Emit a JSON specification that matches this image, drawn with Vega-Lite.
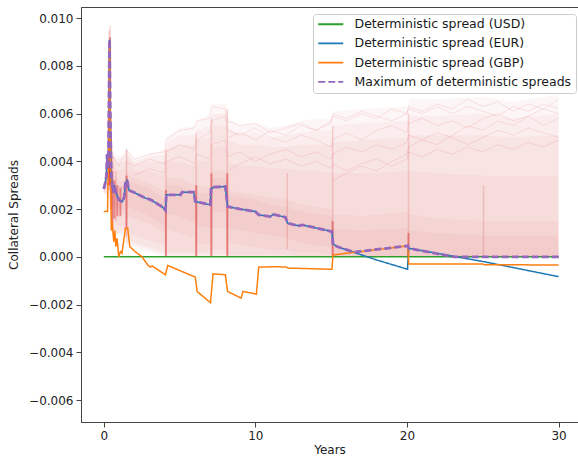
{
  "$schema": "https://vega.github.io/schema/vega-lite/v6.json",
  "width": 497,
  "height": 415,
  "autosize": "none",
  "padding": {"left": 81, "top": 7, "right": 0, "bottom": 37},
  "config": {
    "font": "DejaVu Sans",
    "view": {"stroke": "#444", "strokeWidth": 1},
    "axis": {"domainColor": "#444", "tickColor": "#444", "labelColor": "#222", "titleColor": "#222", "labelFontSize": 12, "titleFontSize": 12, "titleFontWeight": "normal", "grid": false, "tickSize": 5, "labelPadding": 3},
    "legend": {"orient": "none", "legendX": 232, "legendY": 7, "padding": 4, "labelFontSize": 12.5, "labelLimit": 0, "labelColor": "#1a1a1a", "symbolType": "M-1,0L4,0", "symbolSize": 100, "symbolStrokeWidth": 1.8, "rowPadding": 6.2, "labelOffset": 25, "fillColor": "rgba(255,255,255,0.8)", "strokeColor": "#cccccc", "cornerRadius": 3}
  },
  "datasets": {
    "cloud": [
      {"band": "a", "t": 0, "lo": 0.0027, "hi": 0.0029},
      {"band": "a", "t": 0.2, "lo": 0.0025, "hi": 0.0045},
      {"band": "a", "t": 0.3, "lo": 0.0025, "hi": 0.006},
      {"band": "a", "t": 0.38, "lo": 0.0025, "hi": 0.0097},
      {"band": "a", "t": 0.45, "lo": 0.002, "hi": 0.007},
      {"band": "a", "t": 0.55, "lo": 0.001, "hi": 0.0048},
      {"band": "a", "t": 0.7, "lo": 0.0008, "hi": 0.0043},
      {"band": "a", "t": 1.0, "lo": 0.0009, "hi": 0.0042},
      {"band": "a", "t": 1.4, "lo": 0.001, "hi": 0.0043},
      {"band": "a", "t": 1.5, "lo": 0.0004, "hi": 0.0046},
      {"band": "a", "t": 1.65, "lo": 0.0005, "hi": 0.0044},
      {"band": "a", "t": 2, "lo": 0.0004, "hi": 0.0041},
      {"band": "a", "t": 3, "lo": 0.0002, "hi": 0.0043},
      {"band": "a", "t": 4.05, "lo": 0.0, "hi": 0.0045},
      {"band": "a", "t": 4.15, "lo": 0.0, "hi": 0.005},
      {"band": "a", "t": 5, "lo": 0, "hi": 0.0054},
      {"band": "a", "t": 6.05, "lo": 0, "hi": 0.0055},
      {"band": "a", "t": 6.15, "lo": 0, "hi": 0.0057},
      {"band": "a", "t": 7.05, "lo": 0, "hi": 0.006},
      {"band": "a", "t": 7.15, "lo": 0, "hi": 0.0064},
      {"band": "a", "t": 8.1, "lo": 0, "hi": 0.0064},
      {"band": "a", "t": 8.2, "lo": 0, "hi": 0.0058},
      {"band": "a", "t": 9, "lo": 0, "hi": 0.0055},
      {"band": "a", "t": 10, "lo": 0, "hi": 0.0056},
      {"band": "a", "t": 11, "lo": 0, "hi": 0.0054},
      {"band": "a", "t": 12, "lo": 0, "hi": 0.0055},
      {"band": "a", "t": 13, "lo": 0, "hi": 0.0057},
      {"band": "a", "t": 14, "lo": 0, "hi": 0.0058},
      {"band": "a", "t": 15.05, "lo": 0, "hi": 0.0058},
      {"band": "a", "t": 15.15, "lo": 0, "hi": 0.0061},
      {"band": "a", "t": 17, "lo": 0, "hi": 0.0062},
      {"band": "a", "t": 20.05, "lo": 0, "hi": 0.0063},
      {"band": "a", "t": 20.15, "lo": 0, "hi": 0.0066},
      {"band": "a", "t": 22, "lo": 0, "hi": 0.0066},
      {"band": "a", "t": 25, "lo": 0, "hi": 0.0067},
      {"band": "a", "t": 27, "lo": 0, "hi": 0.0065},
      {"band": "a", "t": 30, "lo": 0, "hi": 0.0068},

      {"band": "a2", "t": 0, "lo": 0.0027, "hi": 0.0029},
      {"band": "a2", "t": 0.2, "lo": 0.0026, "hi": 0.0044},
      {"band": "a2", "t": 0.3, "lo": 0.0026, "hi": 0.0059},
      {"band": "a2", "t": 0.38, "lo": 0.0027, "hi": 0.0096},
      {"band": "a2", "t": 0.45, "lo": 0.0021, "hi": 0.0069},
      {"band": "a2", "t": 0.55, "lo": 0.0011, "hi": 0.0046},
      {"band": "a2", "t": 0.7, "lo": 0.0009, "hi": 0.0042},
      {"band": "a2", "t": 1.0, "lo": 0.001, "hi": 0.0041},
      {"band": "a2", "t": 1.4, "lo": 0.0011, "hi": 0.0042},
      {"band": "a2", "t": 1.5, "lo": 0.0005, "hi": 0.0045},
      {"band": "a2", "t": 1.65, "lo": 0.0006, "hi": 0.0043},
      {"band": "a2", "t": 2, "lo": 0.0005, "hi": 0.004},
      {"band": "a2", "t": 3, "lo": 0.0003, "hi": 0.0042},
      {"band": "a2", "t": 4.05, "lo": 0.0001, "hi": 0.0043},
      {"band": "a2", "t": 4.15, "lo": 0.0, "hi": 0.0048},
      {"band": "a2", "t": 5, "lo": 0, "hi": 0.0051},
      {"band": "a2", "t": 6.05, "lo": 0, "hi": 0.0051},
      {"band": "a2", "t": 6.15, "lo": 0, "hi": 0.0053},
      {"band": "a2", "t": 7.05, "lo": 0, "hi": 0.0055},
      {"band": "a2", "t": 7.15, "lo": 0, "hi": 0.006},
      {"band": "a2", "t": 8.1, "lo": 0, "hi": 0.006},
      {"band": "a2", "t": 8.2, "lo": 0, "hi": 0.0054},
      {"band": "a2", "t": 9, "lo": 0, "hi": 0.0051},
      {"band": "a2", "t": 10, "lo": 0, "hi": 0.0052},
      {"band": "a2", "t": 11, "lo": 0, "hi": 0.005},
      {"band": "a2", "t": 12, "lo": 0, "hi": 0.0051},
      {"band": "a2", "t": 13, "lo": 0, "hi": 0.0052},
      {"band": "a2", "t": 14, "lo": 0, "hi": 0.0053},
      {"band": "a2", "t": 15.05, "lo": 0, "hi": 0.0053},
      {"band": "a2", "t": 15.15, "lo": 0, "hi": 0.0055},
      {"band": "a2", "t": 17, "lo": 0, "hi": 0.0056},
      {"band": "a2", "t": 20.05, "lo": 0, "hi": 0.0057},
      {"band": "a2", "t": 20.15, "lo": 0, "hi": 0.0059},
      {"band": "a2", "t": 22, "lo": 0, "hi": 0.0059},
      {"band": "a2", "t": 25, "lo": 0, "hi": 0.006},
      {"band": "a2", "t": 27, "lo": 0, "hi": 0.0058},
      {"band": "a2", "t": 30, "lo": 0, "hi": 0.006},

      {"band": "b", "t": 0, "lo": 0.0027, "hi": 0.0029},
      {"band": "b", "t": 0.2, "lo": 0.0027, "hi": 0.0043},
      {"band": "b", "t": 0.3, "lo": 0.0027, "hi": 0.0058},
      {"band": "b", "t": 0.38, "lo": 0.0028, "hi": 0.0096},
      {"band": "b", "t": 0.45, "lo": 0.0022, "hi": 0.0068},
      {"band": "b", "t": 0.55, "lo": 0.0012, "hi": 0.0044},
      {"band": "b", "t": 0.7, "lo": 0.001, "hi": 0.0041},
      {"band": "b", "t": 1.0, "lo": 0.001, "hi": 0.0039},
      {"band": "b", "t": 1.4, "lo": 0.0011, "hi": 0.004},
      {"band": "b", "t": 1.5, "lo": 0.0006, "hi": 0.0044},
      {"band": "b", "t": 1.65, "lo": 0.0007, "hi": 0.0042},
      {"band": "b", "t": 2, "lo": 0.0006, "hi": 0.0039},
      {"band": "b", "t": 3, "lo": 0.0004, "hi": 0.004},
      {"band": "b", "t": 4.05, "lo": 0.0002, "hi": 0.004},
      {"band": "b", "t": 4.15, "lo": 0.0001, "hi": 0.0045},
      {"band": "b", "t": 5, "lo": 0.0001, "hi": 0.0047},
      {"band": "b", "t": 6.05, "lo": 0.0001, "hi": 0.0047},
      {"band": "b", "t": 6.15, "lo": 0.0001, "hi": 0.0049},
      {"band": "b", "t": 7.05, "lo": 0.0001, "hi": 0.005},
      {"band": "b", "t": 7.15, "lo": 0.0001, "hi": 0.0055},
      {"band": "b", "t": 8.1, "lo": 0.0001, "hi": 0.0055},
      {"band": "b", "t": 8.2, "lo": 0, "hi": 0.0049},
      {"band": "b", "t": 9, "lo": 0, "hi": 0.0047},
      {"band": "b", "t": 10, "lo": 0, "hi": 0.0047},
      {"band": "b", "t": 11, "lo": 0, "hi": 0.0046},
      {"band": "b", "t": 12, "lo": 0, "hi": 0.0046},
      {"band": "b", "t": 13, "lo": 0, "hi": 0.0047},
      {"band": "b", "t": 14, "lo": 0, "hi": 0.0047},
      {"band": "b", "t": 15.05, "lo": 0, "hi": 0.0047},
      {"band": "b", "t": 15.15, "lo": 0, "hi": 0.0048},
      {"band": "b", "t": 17, "lo": 0, "hi": 0.0049},
      {"band": "b", "t": 20.05, "lo": 0, "hi": 0.005},
      {"band": "b", "t": 20.15, "lo": 0, "hi": 0.0051},
      {"band": "b", "t": 22, "lo": 0, "hi": 0.0051},
      {"band": "b", "t": 25, "lo": 0, "hi": 0.0051},
      {"band": "b", "t": 27, "lo": 0, "hi": 0.005},
      {"band": "b", "t": 30, "lo": 0, "hi": 0.0051},

      {"band": "c", "t": 0, "lo": 0.0027, "hi": 0.0029},
      {"band": "c", "t": 0.2, "lo": 0.0028, "hi": 0.0042},
      {"band": "c", "t": 0.3, "lo": 0.0028, "hi": 0.0055},
      {"band": "c", "t": 0.38, "lo": 0.003, "hi": 0.0095},
      {"band": "c", "t": 0.45, "lo": 0.0025, "hi": 0.0065},
      {"band": "c", "t": 0.55, "lo": 0.0015, "hi": 0.004},
      {"band": "c", "t": 0.7, "lo": 0.0014, "hi": 0.0038},
      {"band": "c", "t": 1.0, "lo": 0.0013, "hi": 0.0036},
      {"band": "c", "t": 1.4, "lo": 0.0013, "hi": 0.0037},
      {"band": "c", "t": 1.5, "lo": 0.0008, "hi": 0.0042},
      {"band": "c", "t": 1.65, "lo": 0.001, "hi": 0.0039},
      {"band": "c", "t": 2, "lo": 0.0009, "hi": 0.0036},
      {"band": "c", "t": 3, "lo": 0.0007, "hi": 0.0036},
      {"band": "c", "t": 4.05, "lo": 0.0005, "hi": 0.0034},
      {"band": "c", "t": 4.15, "lo": 0.0002, "hi": 0.004},
      {"band": "c", "t": 5, "lo": 0.0002, "hi": 0.004},
      {"band": "c", "t": 6.05, "lo": 0.0002, "hi": 0.0038},
      {"band": "c", "t": 6.15, "lo": 0.0002, "hi": 0.004},
      {"band": "c", "t": 7.05, "lo": 0.0002, "hi": 0.004},
      {"band": "c", "t": 7.15, "lo": 0.0003, "hi": 0.0046},
      {"band": "c", "t": 8.1, "lo": 0.0003, "hi": 0.0046},
      {"band": "c", "t": 8.2, "lo": 0.0001, "hi": 0.004},
      {"band": "c", "t": 9, "lo": 0.0001, "hi": 0.0038},
      {"band": "c", "t": 10, "lo": 0.0001, "hi": 0.0038},
      {"band": "c", "t": 11, "lo": 0.0001, "hi": 0.0037},
      {"band": "c", "t": 12, "lo": 0.0001, "hi": 0.0037},
      {"band": "c", "t": 13, "lo": 0, "hi": 0.0036},
      {"band": "c", "t": 14, "lo": 0, "hi": 0.0036},
      {"band": "c", "t": 15.05, "lo": 0, "hi": 0.0035},
      {"band": "c", "t": 15.15, "lo": 0, "hi": 0.0035},
      {"band": "c", "t": 17, "lo": 0, "hi": 0.0035},
      {"band": "c", "t": 20.05, "lo": 0, "hi": 0.0036},
      {"band": "c", "t": 20.15, "lo": 0, "hi": 0.0036},
      {"band": "c", "t": 22, "lo": 0, "hi": 0.0035},
      {"band": "c", "t": 25, "lo": 0, "hi": 0.0034},
      {"band": "c", "t": 27, "lo": 0, "hi": 0.0034},
      {"band": "c", "t": 30, "lo": 0, "hi": 0.0034},

      {"band": "d", "t": 0, "lo": 0.00275, "hi": 0.0029},
      {"band": "d", "t": 0.2, "lo": 0.003, "hi": 0.0038},
      {"band": "d", "t": 0.3, "lo": 0.0032, "hi": 0.0048},
      {"band": "d", "t": 0.38, "lo": 0.0035, "hi": 0.0093},
      {"band": "d", "t": 0.45, "lo": 0.003, "hi": 0.006},
      {"band": "d", "t": 0.55, "lo": 0.002, "hi": 0.0035},
      {"band": "d", "t": 0.7, "lo": 0.002, "hi": 0.0034},
      {"band": "d", "t": 1.0, "lo": 0.0018, "hi": 0.0032},
      {"band": "d", "t": 1.4, "lo": 0.0018, "hi": 0.0032},
      {"band": "d", "t": 1.5, "lo": 0.0015, "hi": 0.0037},
      {"band": "d", "t": 1.65, "lo": 0.0017, "hi": 0.0034},
      {"band": "d", "t": 2, "lo": 0.0016, "hi": 0.0033},
      {"band": "d", "t": 3, "lo": 0.0014, "hi": 0.0031},
      {"band": "d", "t": 4.05, "lo": 0.001, "hi": 0.0027},
      {"band": "d", "t": 4.15, "lo": 0.0012, "hi": 0.0033},
      {"band": "d", "t": 5, "lo": 0.001, "hi": 0.0033},
      {"band": "d", "t": 6.05, "lo": 0.0008, "hi": 0.003},
      {"band": "d", "t": 6.15, "lo": 0.0006, "hi": 0.003},
      {"band": "d", "t": 7.05, "lo": 0.0005, "hi": 0.0029},
      {"band": "d", "t": 7.15, "lo": 0.0012, "hi": 0.0036},
      {"band": "d", "t": 8.1, "lo": 0.0012, "hi": 0.0036},
      {"band": "d", "t": 8.2, "lo": 0.0006, "hi": 0.0028},
      {"band": "d", "t": 9, "lo": 0.0005, "hi": 0.0027},
      {"band": "d", "t": 10, "lo": 0.0004, "hi": 0.0026},
      {"band": "d", "t": 11, "lo": 0.0003, "hi": 0.0025},
      {"band": "d", "t": 12, "lo": 0.0003, "hi": 0.0024},
      {"band": "d", "t": 13, "lo": 0.0002, "hi": 0.0022},
      {"band": "d", "t": 14, "lo": 0.0002, "hi": 0.0021},
      {"band": "d", "t": 15.05, "lo": 0.0001, "hi": 0.002},
      {"band": "d", "t": 15.15, "lo": 0, "hi": 0.0018},
      {"band": "d", "t": 17, "lo": 0, "hi": 0.0017},
      {"band": "d", "t": 20.05, "lo": 0, "hi": 0.0019},
      {"band": "d", "t": 20.15, "lo": 0, "hi": 0.0018},
      {"band": "d", "t": 22, "lo": 0, "hi": 0.0016},
      {"band": "d", "t": 25, "lo": 0, "hi": 0.0015},
      {"band": "d", "t": 27, "lo": 0, "hi": 0.0015},
      {"band": "d", "t": 30, "lo": 0, "hi": 0.0015},

      {"band": "e", "t": 0, "lo": 0.0027, "hi": 0.0029},
      {"band": "e", "t": 0.2, "lo": 0.0031, "hi": 0.0037},
      {"band": "e", "t": 0.3, "lo": 0.0034, "hi": 0.0045},
      {"band": "e", "t": 0.38, "lo": 0.004, "hi": 0.009},
      {"band": "e", "t": 0.45, "lo": 0.0033, "hi": 0.0055},
      {"band": "e", "t": 0.55, "lo": 0.0022, "hi": 0.0033},
      {"band": "e", "t": 0.7, "lo": 0.0022, "hi": 0.0032},
      {"band": "e", "t": 1.0, "lo": 0.002, "hi": 0.003},
      {"band": "e", "t": 1.4, "lo": 0.002, "hi": 0.003},
      {"band": "e", "t": 1.5, "lo": 0.0022, "hi": 0.0035},
      {"band": "e", "t": 1.65, "lo": 0.0021, "hi": 0.0032},
      {"band": "e", "t": 2, "lo": 0.002, "hi": 0.0031},
      {"band": "e", "t": 3, "lo": 0.0017, "hi": 0.0029},
      {"band": "e", "t": 4.05, "lo": 0.0013, "hi": 0.0024},
      {"band": "e", "t": 4.15, "lo": 0.0018, "hi": 0.003},
      {"band": "e", "t": 5, "lo": 0.0017, "hi": 0.003},
      {"band": "e", "t": 6.05, "lo": 0.0014, "hi": 0.0027},
      {"band": "e", "t": 6.15, "lo": 0.0013, "hi": 0.0027},
      {"band": "e", "t": 7.05, "lo": 0.0012, "hi": 0.0026},
      {"band": "e", "t": 7.15, "lo": 0.0019, "hi": 0.0033},
      {"band": "e", "t": 8.1, "lo": 0.0019, "hi": 0.0033},
      {"band": "e", "t": 8.2, "lo": 0.0012, "hi": 0.0026},
      {"band": "e", "t": 9, "lo": 0.0011, "hi": 0.0025},
      {"band": "e", "t": 10, "lo": 0.001, "hi": 0.0024},
      {"band": "e", "t": 11, "lo": 0.0009, "hi": 0.0022},
      {"band": "e", "t": 12, "lo": 0.0008, "hi": 0.0021},
      {"band": "e", "t": 13, "lo": 0.0006, "hi": 0.0019},
      {"band": "e", "t": 14, "lo": 0.0005, "hi": 0.0018},
      {"band": "e", "t": 15.05, "lo": 0.0004, "hi": 0.0017},
      {"band": "e", "t": 15.15, "lo": 0, "hi": 0.0012},
      {"band": "e", "t": 17, "lo": 0, "hi": 0.0011},
      {"band": "e", "t": 20.05, "lo": 0, "hi": 0.0012},
      {"band": "e", "t": 20.15, "lo": 0, "hi": 0.0011},
      {"band": "e", "t": 22, "lo": 0, "hi": 0.001},
      {"band": "e", "t": 25, "lo": 0, "hi": 0.0009},
      {"band": "e", "t": 27, "lo": 0, "hi": 0.0009},
      {"band": "e", "t": 30, "lo": 0, "hi": 0.0009}
    ],
    "paths": [
      {"p": 1, "t": 8.2, "v": 0.005}, {"p": 1, "t": 9, "v": 0.0052}, {"p": 1, "t": 10, "v": 0.0049}, {"p": 1, "t": 11, "v": 0.0053}, {"p": 1, "t": 12, "v": 0.0051}, {"p": 1, "t": 13, "v": 0.0055}, {"p": 1, "t": 14, "v": 0.0053}, {"p": 1, "t": 15, "v": 0.0056}, {"p": 1, "t": 15.1, "v": 0.0059}, {"p": 1, "t": 16, "v": 0.0057}, {"p": 1, "t": 17, "v": 0.006}, {"p": 1, "t": 18, "v": 0.0058}, {"p": 1, "t": 19, "v": 0.0062}, {"p": 1, "t": 20, "v": 0.006}, {"p": 1, "t": 20.1, "v": 0.0063}, {"p": 1, "t": 21, "v": 0.0061}, {"p": 1, "t": 22, "v": 0.0064}, {"p": 1, "t": 23, "v": 0.0062}, {"p": 1, "t": 24, "v": 0.0066}, {"p": 1, "t": 25, "v": 0.0063}, {"p": 1, "t": 26, "v": 0.0065}, {"p": 1, "t": 27, "v": 0.0061}, {"p": 1, "t": 28, "v": 0.0064}, {"p": 1, "t": 29, "v": 0.0062}, {"p": 1, "t": 30, "v": 0.0066},
      {"p": 2, "t": 1.5, "v": 0.004}, {"p": 2, "t": 2, "v": 0.0038}, {"p": 2, "t": 3, "v": 0.0041}, {"p": 2, "t": 4, "v": 0.0039}, {"p": 2, "t": 4.1, "v": 0.0044}, {"p": 2, "t": 5, "v": 0.0047}, {"p": 2, "t": 6, "v": 0.0045}, {"p": 2, "t": 6.1, "v": 0.0049}, {"p": 2, "t": 7, "v": 0.0052}, {"p": 2, "t": 7.1, "v": 0.0057}, {"p": 2, "t": 8, "v": 0.0059}, {"p": 2, "t": 8.15, "v": 0.0053}, {"p": 2, "t": 9, "v": 0.0051}, {"p": 2, "t": 10, "v": 0.0054}, {"p": 2, "t": 11, "v": 0.005}, {"p": 2, "t": 12, "v": 0.0048}, {"p": 2, "t": 13, "v": 0.0051}, {"p": 2, "t": 14, "v": 0.0049}, {"p": 2, "t": 15, "v": 0.0046}, {"p": 2, "t": 15.1, "v": 0.0049}, {"p": 2, "t": 16, "v": 0.0052}, {"p": 2, "t": 17, "v": 0.0049}, {"p": 2, "t": 18, "v": 0.0053}, {"p": 2, "t": 19, "v": 0.0055}, {"p": 2, "t": 20, "v": 0.0052}, {"p": 2, "t": 20.1, "v": 0.0056}, {"p": 2, "t": 21, "v": 0.0058}, {"p": 2, "t": 22, "v": 0.0055}, {"p": 2, "t": 23, "v": 0.0057}, {"p": 2, "t": 24, "v": 0.0054}, {"p": 2, "t": 25, "v": 0.0058}, {"p": 2, "t": 26, "v": 0.006}, {"p": 2, "t": 27, "v": 0.0057}, {"p": 2, "t": 28, "v": 0.0059}, {"p": 2, "t": 29, "v": 0.0055}, {"p": 2, "t": 30, "v": 0.0058},
      {"p": 3, "t": 2, "v": 0.0034}, {"p": 3, "t": 3, "v": 0.0037}, {"p": 3, "t": 4, "v": 0.0035}, {"p": 3, "t": 4.1, "v": 0.004}, {"p": 3, "t": 5, "v": 0.0042}, {"p": 3, "t": 6, "v": 0.0039}, {"p": 3, "t": 6.1, "v": 0.0043}, {"p": 3, "t": 7, "v": 0.0041}, {"p": 3, "t": 7.1, "v": 0.0047}, {"p": 3, "t": 8, "v": 0.0049}, {"p": 3, "t": 8.15, "v": 0.0042}, {"p": 3, "t": 9, "v": 0.0044}, {"p": 3, "t": 10, "v": 0.004}, {"p": 3, "t": 11, "v": 0.0043}, {"p": 3, "t": 12, "v": 0.0045}, {"p": 3, "t": 13, "v": 0.0042}, {"p": 3, "t": 14, "v": 0.0044}, {"p": 3, "t": 15, "v": 0.0041}, {"p": 3, "t": 15.1, "v": 0.0043}, {"p": 3, "t": 16, "v": 0.0046}, {"p": 3, "t": 17, "v": 0.0044}, {"p": 3, "t": 18, "v": 0.0047}, {"p": 3, "t": 19, "v": 0.0045}, {"p": 3, "t": 20, "v": 0.0048}, {"p": 3, "t": 20.1, "v": 0.0051}, {"p": 3, "t": 21, "v": 0.0049}, {"p": 3, "t": 22, "v": 0.0052}, {"p": 3, "t": 23, "v": 0.005}, {"p": 3, "t": 24, "v": 0.0047}, {"p": 3, "t": 25, "v": 0.005}, {"p": 3, "t": 26, "v": 0.0053}, {"p": 3, "t": 27, "v": 0.0051}, {"p": 3, "t": 28, "v": 0.0054}, {"p": 3, "t": 29, "v": 0.0052}, {"p": 3, "t": 30, "v": 0.005},
      {"p": 4, "t": 8.2, "v": 0.0036}, {"p": 4, "t": 9, "v": 0.0039}, {"p": 4, "t": 10, "v": 0.0042}, {"p": 4, "t": 11, "v": 0.0039}, {"p": 4, "t": 12, "v": 0.0041}, {"p": 4, "t": 13, "v": 0.0038}, {"p": 4, "t": 14, "v": 0.004}, {"p": 4, "t": 15, "v": 0.0037}, {"p": 4, "t": 15.1, "v": 0.0039}, {"p": 4, "t": 16, "v": 0.0036}, {"p": 4, "t": 17, "v": 0.0039}, {"p": 4, "t": 18, "v": 0.0041}, {"p": 4, "t": 19, "v": 0.0038}, {"p": 4, "t": 20, "v": 0.0041}, {"p": 4, "t": 20.1, "v": 0.0044}, {"p": 4, "t": 21, "v": 0.0042}, {"p": 4, "t": 22, "v": 0.0045}, {"p": 4, "t": 23, "v": 0.0043}, {"p": 4, "t": 24, "v": 0.0046}, {"p": 4, "t": 25, "v": 0.0044}, {"p": 4, "t": 26, "v": 0.0047}, {"p": 4, "t": 27, "v": 0.0045}, {"p": 4, "t": 28, "v": 0.0048}, {"p": 4, "t": 29, "v": 0.0046}, {"p": 4, "t": 30, "v": 0.0049},
      {"p": 5, "t": 15.1, "v": 0.0032}, {"p": 5, "t": 16, "v": 0.0035}, {"p": 5, "t": 17, "v": 0.0038}, {"p": 5, "t": 18, "v": 0.0036}, {"p": 5, "t": 19, "v": 0.004}, {"p": 5, "t": 20, "v": 0.0043}, {"p": 5, "t": 20.1, "v": 0.0046}, {"p": 5, "t": 21, "v": 0.0049}, {"p": 5, "t": 22, "v": 0.0047}, {"p": 5, "t": 23, "v": 0.0051}, {"p": 5, "t": 24, "v": 0.0055}, {"p": 5, "t": 25, "v": 0.0053}, {"p": 5, "t": 26, "v": 0.0057}, {"p": 5, "t": 27, "v": 0.0055}, {"p": 5, "t": 28, "v": 0.0059}, {"p": 5, "t": 29, "v": 0.0062}, {"p": 5, "t": 30, "v": 0.006},
      {"p": 6, "t": 0.6, "v": 0.0042}, {"p": 6, "t": 1, "v": 0.0038}, {"p": 6, "t": 1.5, "v": 0.0045}, {"p": 6, "t": 2, "v": 0.0041}, {"p": 6, "t": 3, "v": 0.0043}, {"p": 6, "t": 4, "v": 0.0044}, {"p": 6, "t": 4.1, "v": 0.0049}, {"p": 6, "t": 5, "v": 0.0053}, {"p": 6, "t": 6, "v": 0.0054}, {"p": 6, "t": 6.1, "v": 0.0057}, {"p": 6, "t": 7, "v": 0.0058}, {"p": 6, "t": 7.1, "v": 0.0063}, {"p": 6, "t": 8, "v": 0.0062}, {"p": 6, "t": 8.15, "v": 0.0057}, {"p": 6, "t": 9, "v": 0.0055}, {"p": 6, "t": 10, "v": 0.0056}, {"p": 6, "t": 11, "v": 0.0052}, {"p": 6, "t": 12, "v": 0.0054}, {"p": 6, "t": 13, "v": 0.0056}, {"p": 6, "t": 14, "v": 0.0053}, {"p": 6, "t": 15, "v": 0.0057}, {"p": 6, "t": 15.1, "v": 0.006}, {"p": 6, "t": 16, "v": 0.0058}, {"p": 6, "t": 17, "v": 0.0061}, {"p": 6, "t": 18, "v": 0.0059}, {"p": 6, "t": 19, "v": 0.0057}, {"p": 6, "t": 20, "v": 0.006}, {"p": 6, "t": 20.1, "v": 0.0062}, {"p": 6, "t": 21, "v": 0.006}, {"p": 6, "t": 22, "v": 0.0063}, {"p": 6, "t": 23, "v": 0.006}, {"p": 6, "t": 24, "v": 0.0063}, {"p": 6, "t": 25, "v": 0.0061}, {"p": 6, "t": 26, "v": 0.0059}, {"p": 6, "t": 27, "v": 0.0063}, {"p": 6, "t": 28, "v": 0.0061}, {"p": 6, "t": 29, "v": 0.0064}, {"p": 6, "t": 30, "v": 0.0062}
    ],
    "jumpsLight": [
      {"t": 0.36, "y1": 0.0028, "y2": 0.0095},
      {"t": 0.42, "y1": 0.003, "y2": 0.0097},
      {"t": 0.5, "y1": 0.0015, "y2": 0.006},
      {"t": 0.6, "y1": 0.0012, "y2": 0.0042},
      {"t": 0.8, "y1": 0.0015, "y2": 0.0036},
      {"t": 1.5, "y1": 0.0008, "y2": 0.0045},
      {"t": 4.1, "y1": 0, "y2": 0.0045},
      {"t": 6.1, "y1": 0, "y2": 0.0052},
      {"t": 7.1, "y1": 0, "y2": 0.0058},
      {"t": 8.15, "y1": 0, "y2": 0.0062},
      {"t": 12.1, "y1": 0.0003, "y2": 0.0035},
      {"t": 15.1, "y1": 0, "y2": 0.0055},
      {"t": 20.1, "y1": 0, "y2": 0.006},
      {"t": 25.05, "y1": 0, "y2": 0.003}
    ],
    "jumpsStrong": [
      {"t": 0.33, "y1": 0.003, "y2": 0.006},
      {"t": 0.38, "y1": 0.003, "y2": 0.009},
      {"t": 0.42, "y1": 0.0035, "y2": 0.0092},
      {"t": 0.47, "y1": 0.002, "y2": 0.005},
      {"t": 0.55, "y1": 0.0014, "y2": 0.0036},
      {"t": 0.7, "y1": 0.0016, "y2": 0.0032},
      {"t": 0.9, "y1": 0.0017, "y2": 0.003},
      {"t": 1.1, "y1": 0.0017, "y2": 0.0029},
      {"t": 1.5, "y1": 0.0012, "y2": 0.0034},
      {"t": 4.1, "y1": 0, "y2": 0.0028},
      {"t": 6.1, "y1": 0, "y2": 0.003},
      {"t": 7.1, "y1": 0, "y2": 0.0035},
      {"t": 8.15, "y1": 0, "y2": 0.0035},
      {"t": 15.1, "y1": 0, "y2": 0.0015},
      {"t": 20.1, "y1": 0, "y2": 0.001}
    ],
    "det": [
      {"series": "Deterministic spread (USD)", "t": 0, "v": 0},
      {"series": "Deterministic spread (USD)", "t": 30, "v": 0},

      {"series": "Deterministic spread (EUR)", "t": 0, "v": 0.00285},
      {"series": "Deterministic spread (EUR)", "t": 0.1, "v": 0.0031},
      {"series": "Deterministic spread (EUR)", "t": 0.18, "v": 0.0034},
      {"series": "Deterministic spread (EUR)", "t": 0.22, "v": 0.0043},
      {"series": "Deterministic spread (EUR)", "t": 0.27, "v": 0.0037},
      {"series": "Deterministic spread (EUR)", "t": 0.31, "v": 0.0041},
      {"series": "Deterministic spread (EUR)", "t": 0.38, "v": 0.0091},
      {"series": "Deterministic spread (EUR)", "t": 0.44, "v": 0.0055},
      {"series": "Deterministic spread (EUR)", "t": 0.5, "v": 0.0034},
      {"series": "Deterministic spread (EUR)", "t": 0.6, "v": 0.0027},
      {"series": "Deterministic spread (EUR)", "t": 0.7, "v": 0.003},
      {"series": "Deterministic spread (EUR)", "t": 0.8, "v": 0.0027},
      {"series": "Deterministic spread (EUR)", "t": 0.99, "v": 0.0024},
      {"series": "Deterministic spread (EUR)", "t": 1.21, "v": 0.0023},
      {"series": "Deterministic spread (EUR)", "t": 1.35, "v": 0.0025},
      {"series": "Deterministic spread (EUR)", "t": 1.43, "v": 0.0031},
      {"series": "Deterministic spread (EUR)", "t": 1.55, "v": 0.0032},
      {"series": "Deterministic spread (EUR)", "t": 1.65, "v": 0.0028},
      {"series": "Deterministic spread (EUR)", "t": 2.0, "v": 0.0027},
      {"series": "Deterministic spread (EUR)", "t": 2.75, "v": 0.00246},
      {"series": "Deterministic spread (EUR)", "t": 3.08, "v": 0.0024},
      {"series": "Deterministic spread (EUR)", "t": 3.85, "v": 0.0021},
      {"series": "Deterministic spread (EUR)", "t": 4.07, "v": 0.00195},
      {"series": "Deterministic spread (EUR)", "t": 4.13, "v": 0.0026},
      {"series": "Deterministic spread (EUR)", "t": 5.06, "v": 0.0026},
      {"series": "Deterministic spread (EUR)", "t": 5.17, "v": 0.00271},
      {"series": "Deterministic spread (EUR)", "t": 5.93, "v": 0.00271},
      {"series": "Deterministic spread (EUR)", "t": 6.04, "v": 0.00232},
      {"series": "Deterministic spread (EUR)", "t": 7.03, "v": 0.00218},
      {"series": "Deterministic spread (EUR)", "t": 7.08, "v": 0.00284},
      {"series": "Deterministic spread (EUR)", "t": 7.25, "v": 0.00292},
      {"series": "Deterministic spread (EUR)", "t": 8.02, "v": 0.00295},
      {"series": "Deterministic spread (EUR)", "t": 8.17, "v": 0.00211},
      {"series": "Deterministic spread (EUR)", "t": 9.01, "v": 0.002},
      {"series": "Deterministic spread (EUR)", "t": 10.0, "v": 0.0019},
      {"series": "Deterministic spread (EUR)", "t": 10.22, "v": 0.00176},
      {"series": "Deterministic spread (EUR)", "t": 10.99, "v": 0.00169},
      {"series": "Deterministic spread (EUR)", "t": 11.2, "v": 0.00178},
      {"series": "Deterministic spread (EUR)", "t": 11.98, "v": 0.00166},
      {"series": "Deterministic spread (EUR)", "t": 12.13, "v": 0.00141},
      {"series": "Deterministic spread (EUR)", "t": 12.85, "v": 0.0013},
      {"series": "Deterministic spread (EUR)", "t": 13.1, "v": 0.00134},
      {"series": "Deterministic spread (EUR)", "t": 15.05, "v": 0.00106},
      {"series": "Deterministic spread (EUR)", "t": 15.12, "v": 0.00055},
      {"series": "Deterministic spread (EUR)", "t": 15.38, "v": 0.00043},
      {"series": "Deterministic spread (EUR)", "t": 18.0, "v": -0.00013},
      {"series": "Deterministic spread (EUR)", "t": 20.04, "v": -0.00052},
      {"series": "Deterministic spread (EUR)", "t": 20.1, "v": 0.00036},
      {"series": "Deterministic spread (EUR)", "t": 25.05, "v": -0.0002},
      {"series": "Deterministic spread (EUR)", "t": 30, "v": -0.00083},

      {"series": "Deterministic spread (GBP)", "t": 0, "v": 0.0019},
      {"series": "Deterministic spread (GBP)", "t": 0.25, "v": 0.0019},
      {"series": "Deterministic spread (GBP)", "t": 0.28, "v": 0.0031},
      {"series": "Deterministic spread (GBP)", "t": 0.33, "v": 0.004},
      {"series": "Deterministic spread (GBP)", "t": 0.38, "v": 0.009},
      {"series": "Deterministic spread (GBP)", "t": 0.44, "v": 0.005},
      {"series": "Deterministic spread (GBP)", "t": 0.5, "v": 0.0011},
      {"series": "Deterministic spread (GBP)", "t": 0.55, "v": 0.0015},
      {"series": "Deterministic spread (GBP)", "t": 0.66, "v": 0.00064},
      {"series": "Deterministic spread (GBP)", "t": 0.73, "v": 0.0011},
      {"series": "Deterministic spread (GBP)", "t": 0.8, "v": 0.00043},
      {"series": "Deterministic spread (GBP)", "t": 0.88, "v": 0.00078},
      {"series": "Deterministic spread (GBP)", "t": 0.99, "v": 0.0},
      {"series": "Deterministic spread (GBP)", "t": 1.1, "v": 0.00022},
      {"series": "Deterministic spread (GBP)", "t": 1.2, "v": 0.00015},
      {"series": "Deterministic spread (GBP)", "t": 1.43, "v": 0.0012},
      {"series": "Deterministic spread (GBP)", "t": 1.58, "v": 0.0012},
      {"series": "Deterministic spread (GBP)", "t": 1.72, "v": 0.00043},
      {"series": "Deterministic spread (GBP)", "t": 2.07, "v": 0.00022},
      {"series": "Deterministic spread (GBP)", "t": 2.53, "v": 0.0},
      {"series": "Deterministic spread (GBP)", "t": 2.9, "v": -0.00034},
      {"series": "Deterministic spread (GBP)", "t": 3.08, "v": -0.00043},
      {"series": "Deterministic spread (GBP)", "t": 3.19, "v": -0.00038},
      {"series": "Deterministic spread (GBP)", "t": 4.07, "v": -0.00075},
      {"series": "Deterministic spread (GBP)", "t": 4.22, "v": -0.00036},
      {"series": "Deterministic spread (GBP)", "t": 6.04, "v": -0.00085},
      {"series": "Deterministic spread (GBP)", "t": 6.16, "v": -0.00145},
      {"series": "Deterministic spread (GBP)", "t": 7.04, "v": -0.00192},
      {"series": "Deterministic spread (GBP)", "t": 7.21, "v": -0.00071},
      {"series": "Deterministic spread (GBP)", "t": 8.02, "v": -0.00075},
      {"series": "Deterministic spread (GBP)", "t": 8.17, "v": -0.00145},
      {"series": "Deterministic spread (GBP)", "t": 9.06, "v": -0.00173},
      {"series": "Deterministic spread (GBP)", "t": 9.19, "v": -0.00145},
      {"series": "Deterministic spread (GBP)", "t": 10.07, "v": -0.00156},
      {"series": "Deterministic spread (GBP)", "t": 10.22, "v": -0.00043},
      {"series": "Deterministic spread (GBP)", "t": 11.32, "v": -0.00041},
      {"series": "Deterministic spread (GBP)", "t": 12.05, "v": -0.00043},
      {"series": "Deterministic spread (GBP)", "t": 12.13, "v": -0.00047},
      {"series": "Deterministic spread (GBP)", "t": 15.05, "v": -0.00052},
      {"series": "Deterministic spread (GBP)", "t": 15.12, "v": 0.00008},
      {"series": "Deterministic spread (GBP)", "t": 20.05, "v": 0.00046},
      {"series": "Deterministic spread (GBP)", "t": 20.12, "v": -0.0003},
      {"series": "Deterministic spread (GBP)", "t": 25, "v": -0.0003},
      {"series": "Deterministic spread (GBP)", "t": 25.1, "v": -0.00033},
      {"series": "Deterministic spread (GBP)", "t": 30, "v": -0.00034},

      {"series": "Maximum of deterministic spreads", "t": 0, "v": 0.00285},
      {"series": "Maximum of deterministic spreads", "t": 0.1, "v": 0.0031},
      {"series": "Maximum of deterministic spreads", "t": 0.18, "v": 0.0034},
      {"series": "Maximum of deterministic spreads", "t": 0.22, "v": 0.0043},
      {"series": "Maximum of deterministic spreads", "t": 0.27, "v": 0.0037},
      {"series": "Maximum of deterministic spreads", "t": 0.31, "v": 0.0041},
      {"series": "Maximum of deterministic spreads", "t": 0.38, "v": 0.0091},
      {"series": "Maximum of deterministic spreads", "t": 0.44, "v": 0.0055},
      {"series": "Maximum of deterministic spreads", "t": 0.5, "v": 0.0034},
      {"series": "Maximum of deterministic spreads", "t": 0.6, "v": 0.0027},
      {"series": "Maximum of deterministic spreads", "t": 0.7, "v": 0.003},
      {"series": "Maximum of deterministic spreads", "t": 0.8, "v": 0.0027},
      {"series": "Maximum of deterministic spreads", "t": 0.99, "v": 0.0024},
      {"series": "Maximum of deterministic spreads", "t": 1.21, "v": 0.0023},
      {"series": "Maximum of deterministic spreads", "t": 1.35, "v": 0.0025},
      {"series": "Maximum of deterministic spreads", "t": 1.43, "v": 0.0031},
      {"series": "Maximum of deterministic spreads", "t": 1.55, "v": 0.0032},
      {"series": "Maximum of deterministic spreads", "t": 1.65, "v": 0.0028},
      {"series": "Maximum of deterministic spreads", "t": 2.0, "v": 0.0027},
      {"series": "Maximum of deterministic spreads", "t": 2.75, "v": 0.00246},
      {"series": "Maximum of deterministic spreads", "t": 3.08, "v": 0.0024},
      {"series": "Maximum of deterministic spreads", "t": 3.85, "v": 0.0021},
      {"series": "Maximum of deterministic spreads", "t": 4.07, "v": 0.00195},
      {"series": "Maximum of deterministic spreads", "t": 4.13, "v": 0.0026},
      {"series": "Maximum of deterministic spreads", "t": 5.06, "v": 0.0026},
      {"series": "Maximum of deterministic spreads", "t": 5.17, "v": 0.00271},
      {"series": "Maximum of deterministic spreads", "t": 5.93, "v": 0.00271},
      {"series": "Maximum of deterministic spreads", "t": 6.04, "v": 0.00232},
      {"series": "Maximum of deterministic spreads", "t": 7.03, "v": 0.00218},
      {"series": "Maximum of deterministic spreads", "t": 7.08, "v": 0.00284},
      {"series": "Maximum of deterministic spreads", "t": 7.25, "v": 0.00292},
      {"series": "Maximum of deterministic spreads", "t": 8.02, "v": 0.00295},
      {"series": "Maximum of deterministic spreads", "t": 8.17, "v": 0.00211},
      {"series": "Maximum of deterministic spreads", "t": 9.01, "v": 0.002},
      {"series": "Maximum of deterministic spreads", "t": 10.0, "v": 0.0019},
      {"series": "Maximum of deterministic spreads", "t": 10.22, "v": 0.00176},
      {"series": "Maximum of deterministic spreads", "t": 10.99, "v": 0.00169},
      {"series": "Maximum of deterministic spreads", "t": 11.2, "v": 0.00178},
      {"series": "Maximum of deterministic spreads", "t": 11.98, "v": 0.00166},
      {"series": "Maximum of deterministic spreads", "t": 12.13, "v": 0.00141},
      {"series": "Maximum of deterministic spreads", "t": 12.85, "v": 0.0013},
      {"series": "Maximum of deterministic spreads", "t": 13.1, "v": 0.00134},
      {"series": "Maximum of deterministic spreads", "t": 15.05, "v": 0.00106},
      {"series": "Maximum of deterministic spreads", "t": 15.12, "v": 0.00055},
      {"series": "Maximum of deterministic spreads", "t": 15.38, "v": 0.00043},
      {"series": "Maximum of deterministic spreads", "t": 16.5, "v": 0.0002},
      {"series": "Maximum of deterministic spreads", "t": 20.05, "v": 0.00046},
      {"series": "Maximum of deterministic spreads", "t": 20.12, "v": 0.00036},
      {"series": "Maximum of deterministic spreads", "t": 23.1, "v": 0.0},
      {"series": "Maximum of deterministic spreads", "t": 30, "v": 0.0}
    ]
  },
  "layer": [
    {
      "data": {"name": "cloud"},
      "mark": {"type": "area", "color": "#d62728", "opacity": 0.045, "clip": true},
      "encoding": {
        "x": {"field": "t", "type": "quantitative", "scale": {"domain": [-1.5, 31.28], "nice": false, "zero": false},
              "axis": {"values": [0, 10, 20, 30], "format": "d", "title": "Years", "titlePadding": 3}},
        "y": {"field": "lo", "type": "quantitative", "scale": {"domain": [-0.00692, 0.01047], "nice": false, "zero": false},
              "axis": {"values": [-0.006, -0.004, -0.002, 0, 0.002, 0.004, 0.006, 0.008, 0.01], "format": ".3f", "title": "Collateral Spreads", "titlePadding": 8}},
        "y2": {"field": "hi"},
        "detail": {"field": "band"}
      }
    },
    {
      "data": {"name": "paths"},
      "mark": {"type": "line", "color": "#d62728", "opacity": 0.13, "strokeWidth": 0.9, "clip": true},
      "encoding": {
        "x": {"field": "t", "type": "quantitative"},
        "y": {"field": "v", "type": "quantitative"},
        "detail": {"field": "p"}
      }
    },
    {
      "data": {"name": "jumpsLight"},
      "mark": {"type": "rule", "color": "#d62728", "opacity": 0.18, "strokeWidth": 1.5},
      "encoding": {
        "x": {"field": "t", "type": "quantitative"},
        "y": {"field": "y1", "type": "quantitative"},
        "y2": {"field": "y2"}
      }
    },
    {
      "data": {"name": "jumpsStrong"},
      "mark": {"type": "rule", "color": "#d62728", "opacity": 0.45, "strokeWidth": 2},
      "encoding": {
        "x": {"field": "t", "type": "quantitative"},
        "y": {"field": "y1", "type": "quantitative"},
        "y2": {"field": "y2"}
      }
    },
    {
      "data": {"name": "det"},
      "transform": [{"filter": "datum.series !== 'Maximum of deterministic spreads'"}],
      "mark": {"type": "line", "strokeWidth": 1.5, "clip": true},
      "encoding": {
        "x": {"field": "t", "type": "quantitative"},
        "y": {"field": "v", "type": "quantitative"},
        "color": {"field": "series", "type": "nominal", "title": null,
                  "scale": {"domain": ["Deterministic spread (USD)", "Deterministic spread (EUR)", "Deterministic spread (GBP)", "Maximum of deterministic spreads"], "range": ["#2ca02c", "#1f77b4", "#ff7f0e", "#9467bd"]}},
        "strokeDash": {"field": "series", "type": "nominal", "title": null,
                  "scale": {"domain": ["Deterministic spread (USD)", "Deterministic spread (EUR)", "Deterministic spread (GBP)", "Maximum of deterministic spreads"], "range": [[1, 0], [1, 0], [1, 0], [7, 3]]}}
      }
    },
    {
      "data": {"name": "det"},
      "transform": [{"filter": "datum.series === 'Maximum of deterministic spreads'"}],
      "mark": {"type": "line", "strokeWidth": 2.8, "clip": true},
      "encoding": {
        "x": {"field": "t", "type": "quantitative"},
        "y": {"field": "v", "type": "quantitative"},
        "color": {"field": "series", "type": "nominal", "title": null},
        "strokeDash": {"field": "series", "type": "nominal", "title": null}
      }
    }
  ]
}
